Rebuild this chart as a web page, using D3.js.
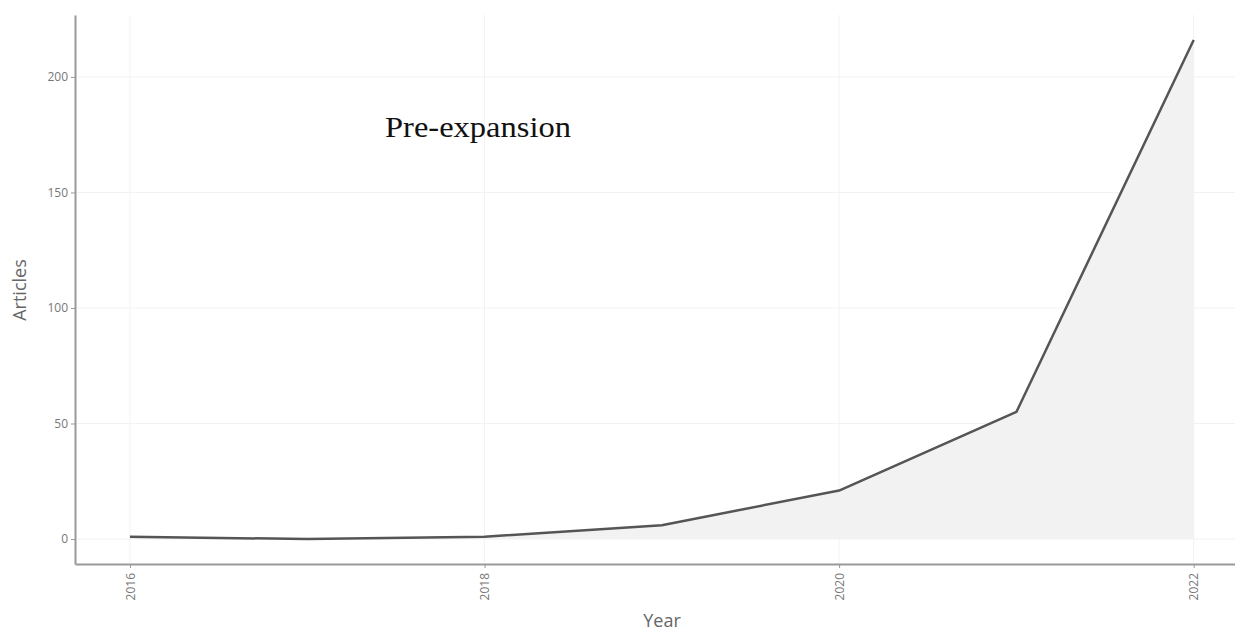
<!DOCTYPE html>
<html>
<head>
<meta charset="utf-8">
<title>Articles per year</title>
<script src="https://cdn.jsdelivr.net/npm/d3@7"></script>
<style>
  body { margin: 0; background: #fff; }
  .tick text { fill: #777; font-family: "Open Sans", sans-serif; font-size: 12px; }
  .axis path, .axis line { stroke: #999; }
</style>
</head>
<body>
<svg id="chart" width="1235" height="631"></svg>
<script>
// data
var years = [2016, 2017, 2018, 2019, 2020, 2021, 2022];
var articles = [1, 0, 1, 6, 21, 55, 216];
var xTicks = [2016, 2018, 2020, 2022];
var yTicks = [0, 50, 100, 150, 200];

var svg = d3.select("#chart");
var plotLeft = 75, plotRight = 1235, plotTop = 15, plotBottom = 564;

var x = d3.scaleLinear().domain([2015.69, 2022.25]).range([plotLeft, 1238]);
var y = d3.scaleLinear().domain([-10.8, 226.8]).range([plotBottom, plotTop]);

var data = years.map(function(d, i) { return { year: d, value: articles[i] }; });

// grid
var grid = svg.append("g").attr("class", "grid");
grid.selectAll(".gx").data(xTicks).enter().append("line")
  .attr("x1", function(d) { return x(d); }).attr("x2", function(d) { return x(d); })
  .attr("y1", plotTop).attr("y2", plotBottom)
  .attr("stroke", "#f2f2f2").attr("stroke-width", 1);
grid.selectAll(".gy").data(yTicks).enter().append("line")
  .attr("x1", plotLeft).attr("x2", plotRight)
  .attr("y1", function(d) { return y(d); }).attr("y2", function(d) { return y(d); })
  .attr("stroke", "#f2f2f2").attr("stroke-width", 1);

// area + line
var area = d3.area()
  .x(function(d) { return x(d.year); })
  .y0(y(0))
  .y1(function(d) { return y(d.value); });

var line = d3.line()
  .x(function(d) { return x(d.year); })
  .y(function(d) { return y(d.value); });

svg.append("path").datum(data)
  .attr("d", area)
  .attr("fill", "#f2f2f2");

svg.append("path").datum(data)
  .attr("d", line)
  .attr("fill", "none")
  .attr("stroke", "#555")
  .attr("stroke-width", 2.5)
  .attr("stroke-linejoin", "round");

// axes
var xAxis = svg.append("g").attr("class", "axis")
  .attr("transform", "translate(0," + plotBottom + ")")
  .call(d3.axisBottom(x).tickValues(xTicks).tickFormat(d3.format("d")).tickSize(4).tickSizeOuter(0));
xAxis.select(".domain").attr("stroke-width", 2);
xAxis.selectAll(".tick text")
  .attr("transform", "rotate(-90)")
  .attr("text-anchor", "end")
  .attr("x", -9)
  .attr("y", 0)
  .attr("dy", "0.35em");

var yAxis = svg.append("g").attr("class", "axis")
  .attr("transform", "translate(" + plotLeft + ",0)")
  .call(d3.axisLeft(y).tickValues(yTicks).tickSize(4).tickSizeOuter(0));
yAxis.select(".domain").attr("stroke-width", 2);

// axis titles
svg.append("text")
  .attr("x", 662).attr("y", 627)
  .attr("text-anchor", "middle")
  .attr("font-family", "Open Sans, sans-serif")
  .attr("font-size", 18)
  .attr("fill", "#666")
  .text("Year");

svg.append("text")
  .attr("transform", "translate(26,290) rotate(-90)")
  .attr("text-anchor", "middle")
  .attr("font-family", "Open Sans, sans-serif")
  .attr("font-size", 18)
  .attr("fill", "#666")
  .text("Articles");

// annotation
svg.append("text")
  .attr("x", 385).attr("y", 137)
  .attr("font-family", "Liberation Serif, serif")
  .attr("font-size", 29)
  .attr("textLength", 186)
  .attr("lengthAdjust", "spacingAndGlyphs")
  .attr("fill", "#111")
  .text("Pre-expansion");
</script>
</body>
</html>
